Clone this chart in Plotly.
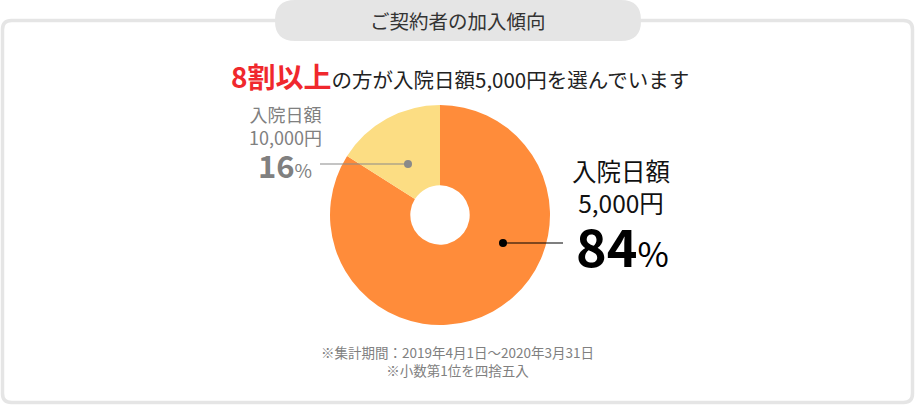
import plotly.graph_objects as go

W, H = 916, 405

labels = ["入院日額 5,000円", "入院日額 10,000円"]
values = [84, 16]
colors = ["#ff8c3a", "#fcdd83"]

title_text = "ご契約者の加入傾向"
headline_red = "8割以上"
headline_rest = "の方が入院日額5,000円を選んでいます"
small_label = ["入院日額", "10,000円"]
big_label = ["入院日額", "5,000円"]
notes = ["※集計期間：2019年4月1日～2020年3月31日", "※小数第1位を四捨五入"]

FONT = "Noto Sans CJK JP"

def px(x):
    return x / W

def py(y):
    return 1 - y / H

fig = go.Figure()

# pie geometry (pixels)
cx, cy, r = 440, 215, 110
fig.add_trace(go.Pie(
    labels=labels, values=values, sort=False, direction="clockwise", rotation=0,
    hole=0.27, marker=dict(colors=colors, line=dict(width=0)),
    textinfo="none", hoverinfo="label+percent", showlegend=False,
    domain=dict(x=[px(cx - r), px(cx + r)], y=[py(cy + r), py(cy - r)]),
))

def rrect(x0, y0, x1, y1, rad):
    return (f"M {px(x0+rad)},{py(y0)} L {px(x1-rad)},{py(y0)} Q {px(x1)},{py(y0)} {px(x1)},{py(y0+rad)} "
            f"L {px(x1)},{py(y1-rad)} Q {px(x1)},{py(y1)} {px(x1-rad)},{py(y1)} "
            f"L {px(x0+rad)},{py(y1)} Q {px(x0)},{py(y1)} {px(x0)},{py(y1-rad)} "
            f"L {px(x0)},{py(y0+rad)} Q {px(x0)},{py(y0)} {px(x0+rad)},{py(y0)} Z")

shapes = [
    dict(type="path", xref="paper", yref="paper", path=rrect(2.5, 20.5, 912.5, 402.5, 9),
         line=dict(color="#e5e5e5", width=3.5), fillcolor="rgba(0,0,0,0)", layer="below"),
    dict(type="path", xref="paper", yref="paper", path=rrect(275, 0, 641, 41, 20),
         line=dict(width=0), fillcolor="#e5e5e5", layer="below"),
    # leader lines
    dict(type="line", xref="paper", yref="paper", x0=px(320), x1=px(408), y0=py(164), y1=py(164),
         line=dict(color="#8a8a8a", width=1.2)),
    dict(type="circle", xref="paper", yref="paper", x0=px(404), x1=px(412), y0=py(160), y1=py(168),
         fillcolor="#8a8a8a", line=dict(width=0)),
    dict(type="line", xref="paper", yref="paper", x0=px(503), x1=px(563), y0=py(243), y1=py(243),
         line=dict(color="#000000", width=1.2)),
    dict(type="circle", xref="paper", yref="paper", x0=px(499), x1=px(507), y0=py(239), y1=py(247),
         fillcolor="#000000", line=dict(width=0)),
]

def ann(x, y, text, size, color):
    return dict(x=px(x), y=py(y), xref="paper", yref="paper", text=text, showarrow=False,
                xanchor="center", yanchor="middle", font=dict(family=FONT, size=size, color=color))

gray = "#808080"
annotations = [
    ann(458, 20, title_text, 19.5, "#333333"),
    ann(460, 76, f"<b><span style='font-size:28px;color:#f0282d'>{headline_red}</span></b>{headline_rest}",
        20.5, "#222222"),
    ann(285, 125.5, "<br>".join(small_label), 18, gray),
    ann(285, 164, f"<b>{values[1]}</b><span style='font-size:19px'>%</span>", 31, gray),
    ann(621, 186, "<br>".join(big_label), 24.5, "#111111"),
    ann(622, 244, f"<b>{values[0]}</b><span style='font-size:34px'>%</span>", 52, "#000000"),
    ann(457, 360.5, "<br>".join(notes), 13.5, gray),
]

fig.update_layout(width=W, height=H, margin=dict(l=0, r=0, t=0, b=0),
                  paper_bgcolor="white", plot_bgcolor="white",
                  shapes=shapes, annotations=annotations,
                  font=dict(family=FONT))

fig.write_html("out.html")
